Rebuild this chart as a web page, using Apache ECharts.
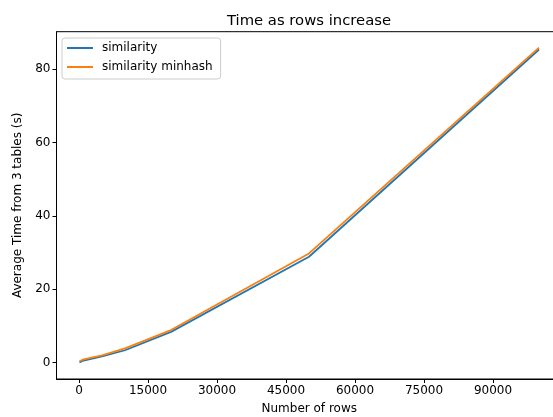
<!DOCTYPE html>
<html>
<head>
<meta charset="utf-8">
<script src="https://cdn.jsdelivr.net/npm/echarts@6/dist/echarts.min.js"></script>
<style>
  html, body { margin: 0; padding: 0; background: #fff; }
  #chart { width: 553px; height: 417px; }
</style>
</head>
<body>
<div id="chart"></div>
<script>
// rows tested and average times (s)
const rows = [100, 1000, 5000, 10000, 20000, 50000, 100000];
const similarity = [0.1, 0.6, 1.7, 3.4, 8.4, 28.9, 85.4];
const similarityMinhash = [0.4, 0.9, 2.0, 3.9, 8.9, 29.8, 85.9];
const xTicks = [0, 15000, 30000, 45000, 60000, 75000, 90000];
const yTicks = [0, 20, 40, 60, 80];

const font = 'DejaVu Sans';
const chart = echarts.init(document.getElementById('chart'));

const pairs = (ys) => rows.map((x, i) => [x, ys[i]]);

chart.setOption({
  animation: false,
  title: {
    text: 'Time as rows increase',
    left: 304, top: 9,
    textAlign: 'center',
    textStyle: { fontFamily: font, fontSize: 14.8, fontWeight: 'normal', color: '#000' }
  },
  legend: {
    orient: 'vertical',
    left: 62, top: 38,
    padding: [4, 8, 6, 4],
    itemWidth: 26, itemHeight: 12, itemGap: 7,
    itemStyle: { opacity: 0 },
    borderColor: '#cccccc', borderWidth: 1, borderRadius: 3,
    textStyle: { fontFamily: font, fontSize: 12, color: '#000', padding: [0, 0, 0, 4] },
    data: ['similarity', 'similarity minhash']
  },
  grid: {
    left: 56.5, top: 31.7, width: 505.5, height: 347.3,
    outerBoundsMode: 'none',
    show: true, borderColor: '#000', borderWidth: 1
  },
  xAxis: {
    type: 'value',
    min: -4895, max: 104995,
    name: 'Number of rows',
    nameLocation: 'middle', nameGap: 24,
    nameTextStyle: { fontFamily: font, fontSize: 12, color: '#000' },
    splitLine: { show: false },
    axisLine: { onZero: false, lineStyle: { color: '#000', width: 1 } },
    axisTick: { show: true, length: 4, lineStyle: { color: '#000' }, customValues: xTicks },
    axisLabel: {
      fontFamily: font, fontSize: 12, color: '#000', margin: 6,
      customValues: xTicks, formatter: (v) => String(v)
    }
  },
  yAxis: {
    type: 'value',
    min: -4.44, max: 90.25,
    name: 'Average Time from 3 tables (s)',
    nameLocation: 'middle', nameGap: 33,
    nameTextStyle: { fontFamily: font, fontSize: 12, color: '#000' },
    splitLine: { show: false },
    axisLine: { show: true, onZero: false, lineStyle: { color: '#000', width: 1 } },
    axisTick: { show: true, length: 4, lineStyle: { color: '#000' }, customValues: yTicks },
    axisLabel: {
      fontFamily: font, fontSize: 12, color: '#000', margin: 6,
      customValues: yTicks, formatter: (v) => String(v)
    }
  },
  series: [
    {
      name: 'similarity', type: 'line', symbol: 'none',
      data: pairs(similarity),
      lineStyle: { color: '#1f77b4', width: 1.8 },
      itemStyle: { color: '#1f77b4' }
    },
    {
      name: 'similarity minhash', type: 'line', symbol: 'none',
      data: pairs(similarityMinhash),
      lineStyle: { color: '#ff7f0e', width: 1.8 },
      itemStyle: { color: '#ff7f0e' }
    }
  ]
});
</script>
</body>
</html>
